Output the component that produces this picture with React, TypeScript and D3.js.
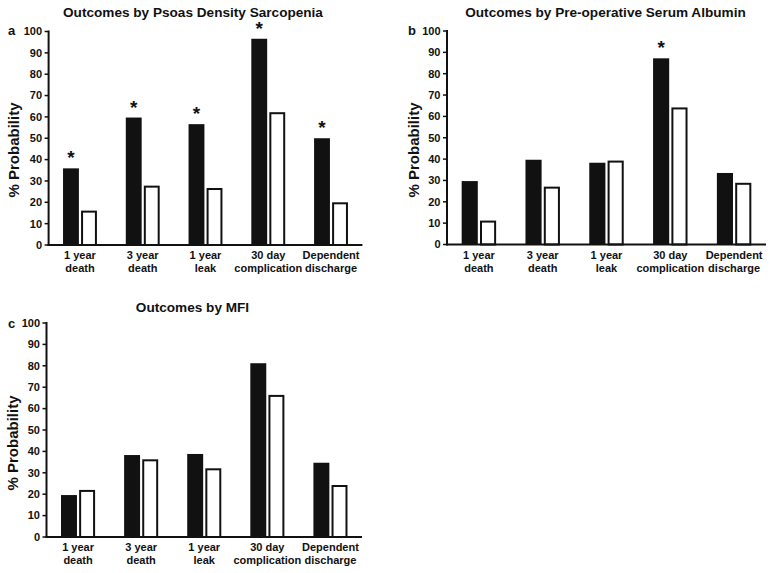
import React from "react";
import * as d3 from "d3";

const categories: string[][] = [
  ["1 year", "death"],
  ["3 year", "death"],
  ["1 year", "leak"],
  ["30 day", "complication"],
  ["Dependent", "discharge"],
];
const seriesKeys = ["exposed", "reference"];
const yTicks = [0, 10, 20, 30, 40, 50, 60, 70, 80, 90, 100];

const psoasExposed = [35.9, 59.7, 56.6, 96.6, 50.0];
const psoasReference = [16.1, 27.8, 26.7, 62.2, 20.0];
const psoasSignificant = [true, true, true, true, true];

const albuminExposed = [29.7, 39.7, 38.3, 87.2, 33.5];
const albuminReference = [11.2, 27.1, 39.3, 64.2, 28.9];
const albuminSignificant = [false, false, false, true, false];

const mfiExposed = [19.6, 38.3, 38.8, 81.2, 34.7];
const mfiReference = [22.0, 36.3, 32.1, 66.4, 24.3];
const mfiSignificant = [false, false, false, false, false];

const FONT = "'Liberation Sans', Arial, Helvetica, sans-serif";
const INK = "#111";

type PanelProps = {
  title: string;
  letter: string;
  exposed: number[];
  reference: number[];
  significant: boolean[];
  xLeft: number;
  xRight: number;
  yBottom: number;
  yTop: number;
  titleX: number;
  titleY: number;
  letterX: number;
  letterY: number;
  yLabelX: number;
  yLabelY: number;
};

function Panel(p: PanelProps) {
  const x0 = d3
    .scaleBand<number>()
    .domain(categories.map((_, i) => i))
    .range([p.xLeft, p.xRight])
    .padding(0);
  const bw = x0.bandwidth();
  const x1 = d3
    .scaleBand<string>()
    .domain(seriesKeys)
    .range([bw * 0.23, bw * 0.77])
    .paddingInner(0.12);
  const y = d3.scaleLinear().domain([0, 100]).range([p.yBottom, p.yTop]);
  const w = x1.bandwidth();

  return (
    <g>
      <text
        x={p.titleX}
        y={p.titleY}
        textAnchor="middle"
        fontFamily={FONT}
        fontWeight="bold"
        fontSize={13.6}
        fill={INK}
      >
        {p.title}
      </text>
      <text
        x={p.letterX}
        y={p.letterY}
        fontFamily={FONT}
        fontWeight="bold"
        fontSize={13}
        fill={INK}
      >
        {p.letter}
      </text>
      <text
        transform={`translate(${p.yLabelX},${p.yLabelY}) rotate(-90)`}
        textAnchor="middle"
        fontFamily={FONT}
        fontWeight="bold"
        fontSize={15}
        fill={INK}
      >
        % Probability
      </text>
      {yTicks.map((t) => (
        <g key={t}>
          <line x1={p.xLeft - 4} x2={p.xLeft} y1={y(t)} y2={y(t)} stroke={INK} strokeWidth={1.5} />
          <text
            x={p.xLeft - 6.5}
            y={y(t)}
            dy="0.35em"
            textAnchor="end"
            fontFamily={FONT}
            fontWeight="bold"
            fontSize={11}
            fill={INK}
          >
            {t}
          </text>
        </g>
      ))}
      {categories.map((c, i) => {
        const gx = x0(i)!;
        const ex = gx + x1("exposed")!;
        const rx = gx + x1("reference")!;
        const eTop = y(p.exposed[i]);
        const rTop = y(p.reference[i]);
        return (
          <g key={i}>
            <rect x={ex} y={eTop} width={w} height={y(0) - eTop} fill={INK} />
            <rect
              x={rx + 1}
              y={rTop + 1}
              width={w - 2}
              height={y(0) - rTop - 1}
              fill="#fff"
              stroke={INK}
              strokeWidth={2}
            />
            {p.significant[i] && (
              <text
                x={ex + w / 2}
                y={eTop - 4}
                textAnchor="middle"
                fontFamily={FONT}
                fontWeight="bold"
                fontSize={19}
                fill={INK}
              >
                *
              </text>
            )}
            {c.map((line, k) => (
              <text
                key={k}
                x={gx + bw / 2}
                y={p.yBottom + 14 + k * 13}
                textAnchor="middle"
                fontFamily={FONT}
                fontWeight="bold"
                fontSize={11}
                fill={INK}
              >
                {line}
              </text>
            ))}
          </g>
        );
      })}
      <line x1={p.xLeft} x2={p.xLeft} y1={y(100) - 1} y2={p.yBottom + 1} stroke={INK} strokeWidth={2} />
      <line x1={p.xLeft - 1} x2={p.xRight} y1={p.yBottom} y2={p.yBottom} stroke={INK} strokeWidth={2} />
    </g>
  );
}

export default function App() {
  return (
    <svg
      width={770}
      height={573}
      style={{ position: "absolute", left: 0, top: 0, background: "#fff" }}
    >
      <rect width={770} height={573} fill="#fff" />
      <Panel
        title="Outcomes by Psoas Density Sarcopenia"
        letter="a"
        exposed={psoasExposed}
        reference={psoasReference}
        significant={psoasSignificant}
        xLeft={48.6}
        xRight={362.4}
        yBottom={245}
        yTop={31.5}
        titleX={193}
        titleY={17}
        letterX={8}
        letterY={35}
        yLabelX={19}
        yLabelY={150}
      />
      <Panel
        title="Outcomes by Pre-operative Serum Albumin"
        letter="b"
        exposed={albuminExposed}
        reference={albuminReference}
        significant={albuminSignificant}
        xLeft={447}
        xRight={766}
        yBottom={244.5}
        yTop={31}
        titleX={605.5}
        titleY={17}
        letterX={408}
        letterY={34.5}
        yLabelX={419}
        yLabelY={150}
      />
      <Panel
        title="Outcomes by MFI"
        letter="c"
        exposed={mfiExposed}
        reference={mfiReference}
        significant={mfiSignificant}
        xLeft={46.5}
        xRight={362}
        yBottom={537}
        yTop={323}
        titleX={192.5}
        titleY={311.5}
        letterX={8}
        letterY={328}
        yLabelX={18}
        yLabelY={443}
      />
    </svg>
  );
}
